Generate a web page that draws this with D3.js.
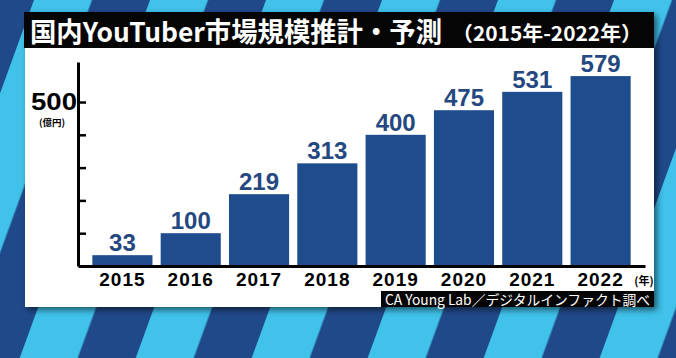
<!DOCTYPE html>
<html><head><meta charset="utf-8">
<script src="https://cdn.jsdelivr.net/npm/d3@7"></script>
<style>html,body{margin:0;padding:0;background:#1f4b8b;}svg{display:block;}</style>
</head><body>
<script>
const years = ["2015","2016","2017","2018","2019","2020","2021","2022"];
const values = [33,100,219,313,400,475,531,579];
const tickValues = [100,200,300,400,500];
const labeledTick = 500;
const titleMain = "国内YouTuber市場規模推計・予測";
const titleSub = "（2015年-2022年）";
const unitY = "(億円)";
const unitX = "(年)";
const source = "CA Young Lab／デジタルインファクト調べ";

const W = 676, H = 358;
const svg = d3.select("body").append("svg").attr("width", W).attr("height", H);
const defs = svg.append("defs");
const pat = defs.append("pattern").attr("id","stripes").attr("patternUnits","userSpaceOnUse")
  .attr("width",109).attr("height",20).attr("patternTransform","translate(34,0) rotate(20)");
pat.append("rect").attr("width",109).attr("height",20).attr("fill","#20498a");
pat.append("rect").attr("width",54.5).attr("height",20).attr("fill","#40c2ea");
const f = defs.append("filter").attr("id","sh").attr("x","-10%").attr("y","-10%").attr("width","120%").attr("height","130%");
f.append("feDropShadow").attr("dx",3).attr("dy",3).attr("stdDeviation",3).attr("flood-color","#000").attr("flood-opacity",0.55);

svg.append("rect").attr("width",W).attr("height",H).attr("fill","url(#stripes)");

// panel + title bar
svg.append("rect").attr("x",25).attr("y",12).attr("width",629).attr("height",295).attr("fill","#fff").attr("filter","url(#sh)");
svg.append("rect").attr("x",24).attr("y",12).attr("width",630).attr("height",36).attr("fill","#050505");

svg.append("text").attr("x",30).attr("y",42).attr("fill","#fff")
  .attr("font-family","'Noto Sans CJK JP','Noto Sans',sans-serif").attr("font-weight",700)
  .attr("font-size",27).attr("textLength",412).attr("lengthAdjust","spacingAndGlyphs").text(titleMain);
svg.append("text").attr("x",452).attr("y",41).attr("fill","#fff")
  .attr("font-family","'Noto Sans CJK JP','Noto Sans',sans-serif").attr("font-weight",700)
  .attr("font-size",20).attr("textLength",190).attr("lengthAdjust","spacingAndGlyphs").text(titleSub);

// scales
const x = d3.scaleBand().domain(years).range([78,645]).paddingInner(0.12).paddingOuter(0.21);
const y = d3.scaleLinear().domain([0,622]).range([266,62]);

// bars
svg.append("g").selectAll("rect").data(values).join("rect")
  .attr("x",(d,i)=>x(years[i])).attr("y",d=>y(d))
  .attr("width",x.bandwidth()).attr("height",d=>y(0)-y(d))
  .attr("fill","#1f4c8d");

svg.append("g").selectAll("text").data(values).join("text")
  .attr("x",(d,i)=>x(years[i])+x.bandwidth()/2).attr("y",d=>y(d)-4)
  .attr("text-anchor","middle").attr("fill","#24487f")
  .attr("font-family","'Liberation Sans',Arial,sans-serif").attr("font-weight",700)
  .attr("font-size",24).text(d=>d);

// y axis
const ya = svg.append("g").attr("transform","translate(78,0)")
  .call(d3.axisRight(y).tickValues(tickValues).tickSize(8).tickSizeOuter(0).tickFormat(""));
ya.select(".domain").attr("stroke","#000").attr("stroke-width",3);
ya.selectAll(".tick line").attr("stroke","#000").attr("stroke-width",2.5);

svg.append("text").attr("x",77).attr("y",y(labeledTick)+8).attr("text-anchor","end")
  .attr("font-family","'Liberation Sans',Arial,sans-serif").attr("font-weight",700)
  .attr("font-size",23).attr("textLength",46).attr("lengthAdjust","spacingAndGlyphs").text(labeledTick);
svg.append("text").attr("x",52).attr("y",y(labeledTick)+24).attr("text-anchor","middle")
  .attr("font-family","'Noto Sans CJK JP',sans-serif").attr("font-weight",700)
  .attr("font-size",9.5).text(unitY);

// x axis
const xa = svg.append("g").attr("transform",`translate(0,${y(0)})`)
  .call(d3.axisBottom(x).tickSize(0).tickSizeOuter(0).tickPadding(7));
xa.select(".domain").attr("stroke","#000").attr("stroke-width",3);
xa.selectAll(".tick text").attr("fill","#000").attr("font-family","'Liberation Sans',Arial,sans-serif")
  .attr("font-weight",700).attr("font-size",19).attr("dy","0.68em").attr("letter-spacing",1);
svg.append("text").attr("x",644).attr("y",285).attr("text-anchor","middle")
  .attr("font-family","'Noto Sans CJK JP',sans-serif").attr("font-weight",700)
  .attr("font-size",11).text(unitX);

// source
svg.append("rect").attr("x",381).attr("y",291).attr("width",273).attr("height",16).attr("fill","#050505");
svg.append("text").attr("x",385).attr("y",304.5).attr("fill","#fff")
  .attr("font-family","'Noto Sans CJK JP',sans-serif").attr("font-size",14)
  .attr("textLength",265).attr("lengthAdjust","spacingAndGlyphs").text(source);
</script>
</body></html>
